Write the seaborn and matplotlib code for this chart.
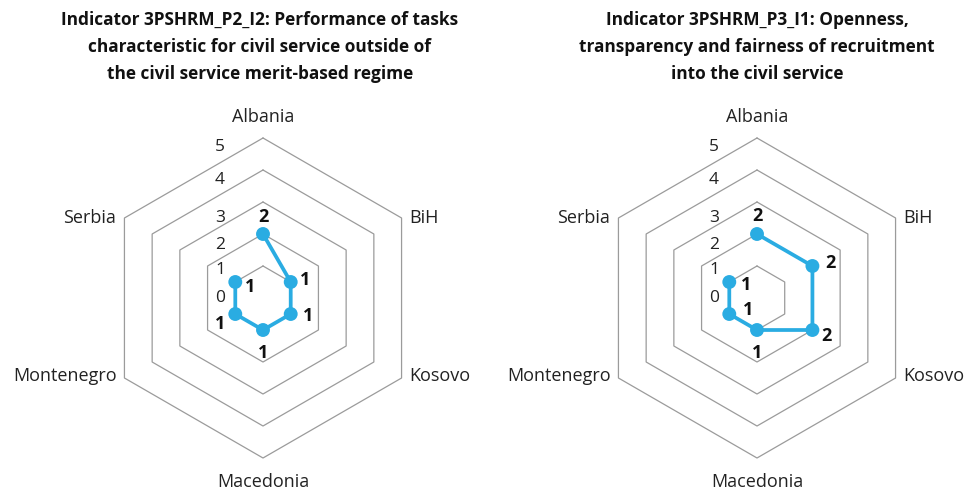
import numpy as np
import pandas as pd
import matplotlib
matplotlib.use("Agg")
import matplotlib.pyplot as plt
import seaborn as sns

# chart data
countries = ["Albania", "BiH", "Kosovo", "Macedonia", "Montenegro", "Serbia"]
values_p2_i2 = [2, 1, 1, 1, 1, 1]
values_p3_i1 = [2, 2, 2, 1, 1, 1]
ring_ticks = [0, 1, 2, 3, 4, 5]

title_p2_i2 = ("Indicator 3PSHRM_P2_I2: Performance of tasks\n"
               "characteristic for civil service outside of\n"
               "the civil service merit-based regime")
title_p3_i1 = ("Indicator 3PSHRM_P3_I1: Openness,\n"
               "transparency and fairness of recruitment\n"
               "into the civil service")

# layout (pixel offsets of value labels per chart)
label_offsets_p2 = [(0, 17), (14, 2), (17, -2), (0, -23), (-15, -10), (15, -5)]
label_offsets_p3 = [(0, 18), (18, 3), (14, -6), (0, -23), (19, 4), (17, -3)]
ring_label_nudge = [0, -4, -11, -16, -10, -9]

LINE = "#2aace2"
GRID = "#9b9b9b"

sns.set_theme(style="white")
plt.rcParams["font.family"] = ["Open Sans", "DejaVu Sans"]

fig = plt.figure(figsize=(9.69, 4.92), dpi=100)

n = len(countries)
angles = np.arange(n) * 2 * np.pi / n


def draw_radar(left, values, offsets, title, title_x):
    ax = fig.add_axes([left, 34 / 492, 320 / 969, 320 / 492], projection="polar")
    ax.set_theta_zero_location("N")
    ax.set_theta_direction(-1)
    ax.set_ylim(0, 5)
    ax.grid(False)
    ax.spines["polar"].set_visible(False)
    ax.set_xticks([])
    ax.set_yticks([])

    # hexagonal rings
    ring_theta = np.append(angles, angles[0])
    for v in ring_ticks[1:]:
        ax.plot(ring_theta, [v] * len(ring_theta), color=GRID, lw=0.9,
                clip_on=False, zorder=1)

    # ring labels
    for v, dy in zip(ring_ticks, ring_label_nudge):
        ax.annotate(str(v), (0, v), xytext=(-43, dy), textcoords="offset pixels",
                    ha="center", va="center", fontsize=12.5, color="#222222")

    # category labels
    cat_style = [((0, 21), "center", "center"),
                 ((8, 0), "left", "center"),
                 ((8, 2), "left", "center"),
                 ((0, -24), "center", "center"),
                 ((-8, 2), "right", "center"),
                 ((-8, 0), "right", "center")]
    for ang, name, (off, ha, va) in zip(angles, countries, cat_style):
        ax.annotate(name, (ang, 5), xytext=off, textcoords="offset pixels",
                    ha=ha, va=va, fontsize=13, color="#222222",
                    annotation_clip=False)

    # data polygon
    df = pd.DataFrame({"theta": np.append(angles, angles[0]),
                       "value": values + values[:1]})
    sns.lineplot(data=df, x="theta", y="value", sort=False, color=LINE,
                 lw=2.7, ax=ax, zorder=3)
    sns.scatterplot(data=df.iloc[:n], x="theta", y="value", color=LINE,
                    s=100, edgecolor="none", ax=ax, zorder=4)
    ax.set_xlabel("")
    ax.set_ylabel("")
    ax.set_ylim(0, 5)

    for ang, v, off in zip(angles, values, offsets):
        ax.annotate(str(v), (ang, v), xytext=off, textcoords="offset pixels",
                    ha="center", va="center", fontsize=13, fontweight="bold",
                    color="#111111")

    fig.text(title_x / 969, 1 - 47 / 492, title, ha="center", va="center",
             fontsize=12.4, fontweight="bold", color="#111111", linespacing=1.65)
    return ax


draw_radar((263 - 160) / 969, values_p2_i2, label_offsets_p2, title_p2_i2, 260)
draw_radar((757 - 160) / 969, values_p3_i1, label_offsets_p3, title_p3_i1, 757)

fig.savefig("out.png", dpi=100)
